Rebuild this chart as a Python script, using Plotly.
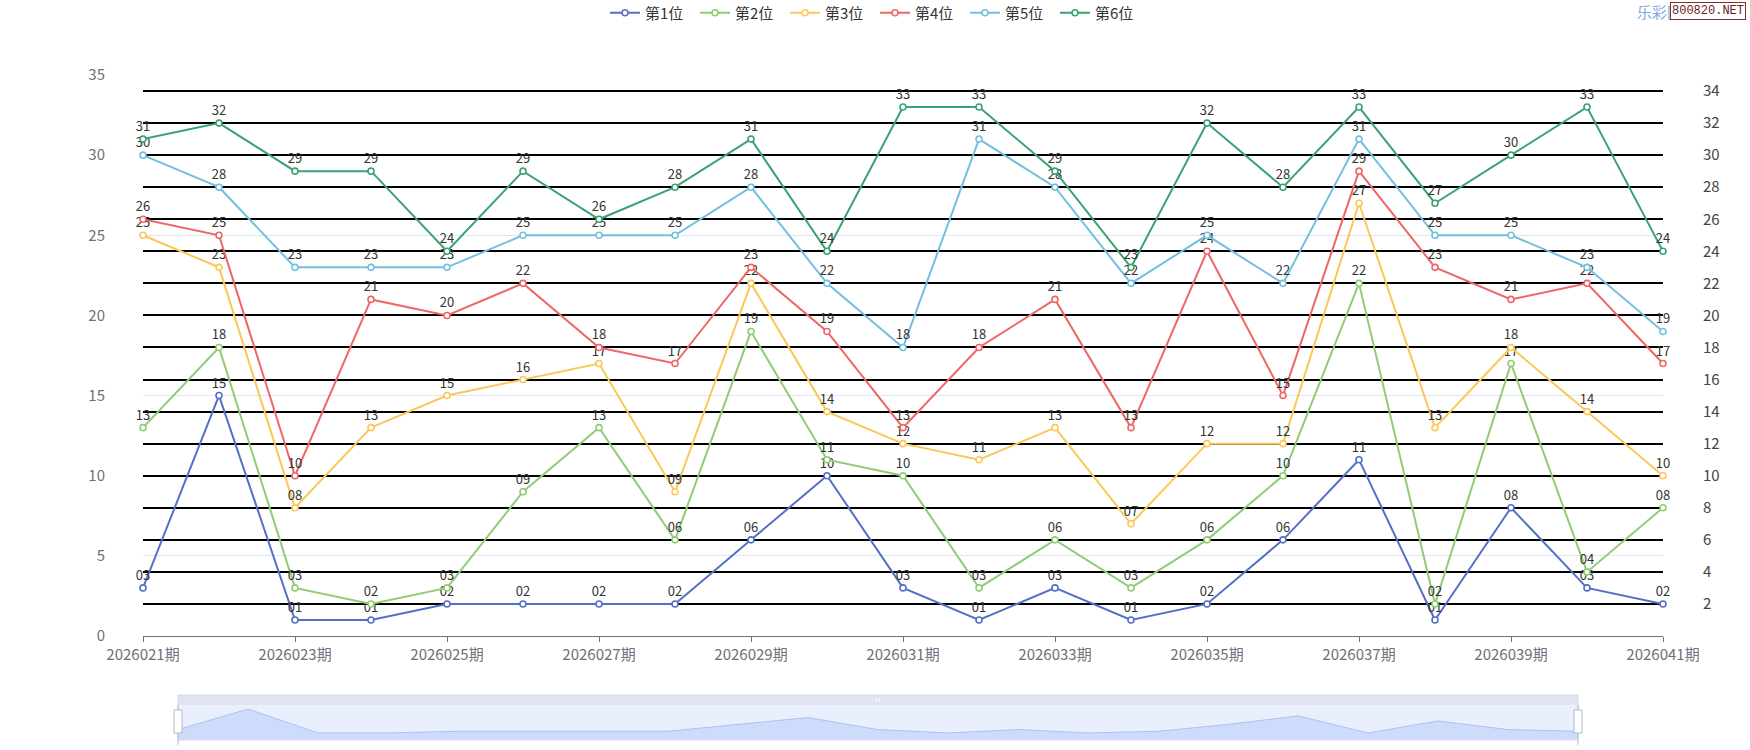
import plotly.graph_objects as go

# ---------------- data ----------------
periods = ["2026021期", "2026022期", "2026023期", "2026024期", "2026025期", "2026026期",
           "2026027期", "2026028期", "2026029期", "2026030期", "2026031期", "2026032期",
           "2026033期", "2026034期", "2026035期", "2026036期", "2026037期", "2026038期",
           "2026039期", "2026040期", "2026041期"]
series_names = ["第1位", "第2位", "第3位", "第4位", "第5位", "第6位"]
pos1 = [3, 15, 1, 1, 2, 2, 2, 2, 6, 10, 3, 1, 3, 1, 2, 6, 11, 1, 8, 3, 2]
pos2 = [13, 18, 3, 2, 3, 9, 13, 6, 19, 11, 10, 3, 6, 3, 6, 10, 22, 2, 17, 4, 8]
pos3 = [25, 23, 8, 13, 15, 16, 17, 9, 22, 14, 12, 11, 13, 7, 12, 12, 27, 13, 18, 14, 10]
pos4 = [26, 25, 10, 21, 20, 22, 18, 17, 23, 19, 13, 18, 21, 13, 24, 15, 29, 23, 21, 22, 17]
pos5 = [30, 28, 23, 23, 23, 25, 25, 25, 28, 22, 18, 31, 28, 22, 25, 22, 31, 25, 25, 23, 19]
pos6 = [31, 32, 29, 29, 24, 29, 26, 28, 31, 24, 33, 33, 29, 23, 32, 28, 33, 27, 30, 33, 24]
all_series = [pos1, pos2, pos3, pos4, pos5, pos6]
left_ticks = [0, 5, 10, 15, 20, 25, 30, 35]
right_ticks = [2, 4, 6, 8, 10, 12, 14, 16, 18, 20, 22, 24, 26, 28, 30, 32, 34]
x_tick_labels = periods[::2]

# ---------------- style ----------------
colors = ["#5470c6", "#91cc75", "#fac858", "#ee6666", "#73c0de", "#3ba272"]
FONT = "Microsoft YaHei, Noto Sans CJK SC, sans-serif"
OFF = 0                      # body margin removed via post_script
W, H = 1750 - OFF, 750 - OFF
ML, MR, MT, MB = 143 - OFF, 87, 75 - OFF, 5
PW, PH = W - ML - MR, H - MT - MB


def px(x):  # screen pixel -> paper x
    return (x - OFF - ML) / PW


def py(y):  # screen pixel -> paper y
    return (H - MB - (y - OFF)) / PH


fig = go.Figure()

for name, vals, c in zip(series_names, all_series, colors):
    fig.add_trace(go.Scatter(
        x=periods, y=vals, name=name, mode="lines+markers+text",
        text=["%02d" % v for v in vals], textposition="top center",
        textfont=dict(size=13, color="#333333", family=FONT),
        line=dict(color=c, width=2),
        marker=dict(symbol="circle", size=6, color="white", line=dict(color=c, width=1.6)),
        cliponaxis=False, xaxis="x", yaxis="y",
    ))

# invisible trace to activate right axis
fig.add_trace(go.Scatter(x=periods, y=pos6, xaxis="x", yaxis="y3", mode="lines",
                         line=dict(width=0), showlegend=False, hoverinfo="skip", opacity=0))

# slider shadow (first series)
SL_YMIN, SL_YMAX = -3.1, 23.2
fig.add_trace(go.Scatter(x=periods, y=[SL_YMIN] * len(periods), xaxis="x2", yaxis="y2",
                         mode="lines", line=dict(width=0), showlegend=False, hoverinfo="skip"))
fig.add_trace(go.Scatter(x=periods, y=pos1, xaxis="x2", yaxis="y2", mode="lines",
                         fill="tonexty", fillcolor="rgba(143,176,247,0.30)",
                         line=dict(color="#adc2ef", width=1), showlegend=False, hoverinfo="skip"))

main_bottom = py(636)

fig.update_layout(
    width=W, height=H,
    margin=dict(l=ML, r=MR, t=MT, b=MB, autoexpand=False),
    paper_bgcolor="white", plot_bgcolor="white",
    font=dict(family=FONT, color="#333333"),
    showlegend=True,
    legend=dict(orientation="h", traceorder="normal", x=px(875), xanchor="center",
                y=py(13), yanchor="middle", entrywidth=45, entrywidthmode="pixels",
                font=dict(size=15, color="#333333", family=FONT), itemwidth=30,
                bgcolor="rgba(0,0,0,0)"),
    xaxis=dict(domain=[0, 1], anchor="y", type="category", range=[0, len(periods) - 1],
               tickvals=x_tick_labels, ticktext=x_tick_labels,
               showline=True, linecolor="#6E7079", linewidth=1,
               ticks="outside", ticklen=5, tickcolor="#6E7079",
               tickfont=dict(size=15, color="#6E7079", family=FONT),
               showgrid=False, zeroline=False, fixedrange=True),
    yaxis=dict(domain=[main_bottom, 1], anchor="x", range=[0, 35],
               tickvals=left_ticks, showgrid=True, gridcolor="#E0E6F1", gridwidth=1,
               zeroline=False, showline=False,
               ticks="outside", ticklen=34, tickcolor="rgba(0,0,0,0)",
               tickfont=dict(size=15, color="#6E7079", family=FONT), fixedrange=True),
    yaxis3=dict(overlaying="y", side="right", anchor="x", range=[0, 35],
                tickvals=right_ticks, showgrid=True, gridcolor="#000000", gridwidth=2,
                zeroline=False, showline=False,
                ticks="outside", ticklen=30, tickcolor="rgba(0,0,0,0)",
                ticklabelstandoff=6,
                tickfont=dict(size=15, color="#444444", family=FONT), fixedrange=True),
    xaxis2=dict(domain=[px(178), px(1578)], anchor="y2", type="category",
                range=[0, len(periods) - 1], visible=False, fixedrange=True),
    yaxis2=dict(domain=[py(740), py(695)], anchor="x2", range=[SL_YMIN, SL_YMAX],
                visible=False, fixedrange=True),
)

shapes = []
# slider body
shapes.append(dict(type="rect", xref="paper", yref="paper", x0=px(178), x1=px(1578),
                   y0=py(740), y1=py(705), fillcolor="#e9effd", line=dict(width=0), layer="below"))
# slider top bar
shapes.append(dict(type="rect", xref="paper", yref="paper", x0=px(178), x1=px(1578),
                   y0=py(705), y1=py(695), fillcolor="#dfe4ef", line=dict(width=0), layer="below"))
# border
shapes.append(dict(type="rect", xref="paper", yref="paper", x0=px(178), x1=px(1578),
                   y0=py(740), y1=py(695), fillcolor="rgba(0,0,0,0)",
                   line=dict(color="#d2dbee", width=1), layer="above"))
# center grip
for gx in (876, 879):
    shapes.append(dict(type="line", xref="paper", yref="paper", x0=px(gx), x1=px(gx),
                       y0=py(702), y1=py(698), line=dict(color="#ffffff", width=1), layer="above"))
# handles
for hx in (178, 1578):
    shapes.append(dict(type="line", xref="paper", yref="paper", x0=px(hx), x1=px(hx),
                       y0=py(745), y1=py(705), line=dict(color="#ACB8D1", width=1), layer="above"))
    shapes.append(dict(type="rect", xref="paper", yref="paper", x0=px(hx - 4), x1=px(hx + 4),
                       y0=py(733), y1=py(710), fillcolor="#ffffff",
                       line=dict(color="#ACB8D1", width=1), layer="above"))
fig.update_layout(shapes=shapes)

fig.add_annotation(text="乐彩网", xref="paper", yref="paper", x=px(1635), y=py(12),
                   xanchor="left", yanchor="middle", showarrow=False,
                   font=dict(size=15, color="#7eaadb", family=FONT))
fig.add_annotation(text="800820.NET", xref="paper", yref="paper", x=px(1670), y=py(11),
                   xanchor="left", yanchor="middle", showarrow=False,
                   font=dict(size=12, color="#6b1d1d", family="Liberation Mono, monospace"),
                   bgcolor="#ffffff", bordercolor="#8b2c2c", borderwidth=1, borderpad=1)

fig.write_html("out.html", config={"displayModeBar": False},
               post_script="document.body.style.margin='0';")
